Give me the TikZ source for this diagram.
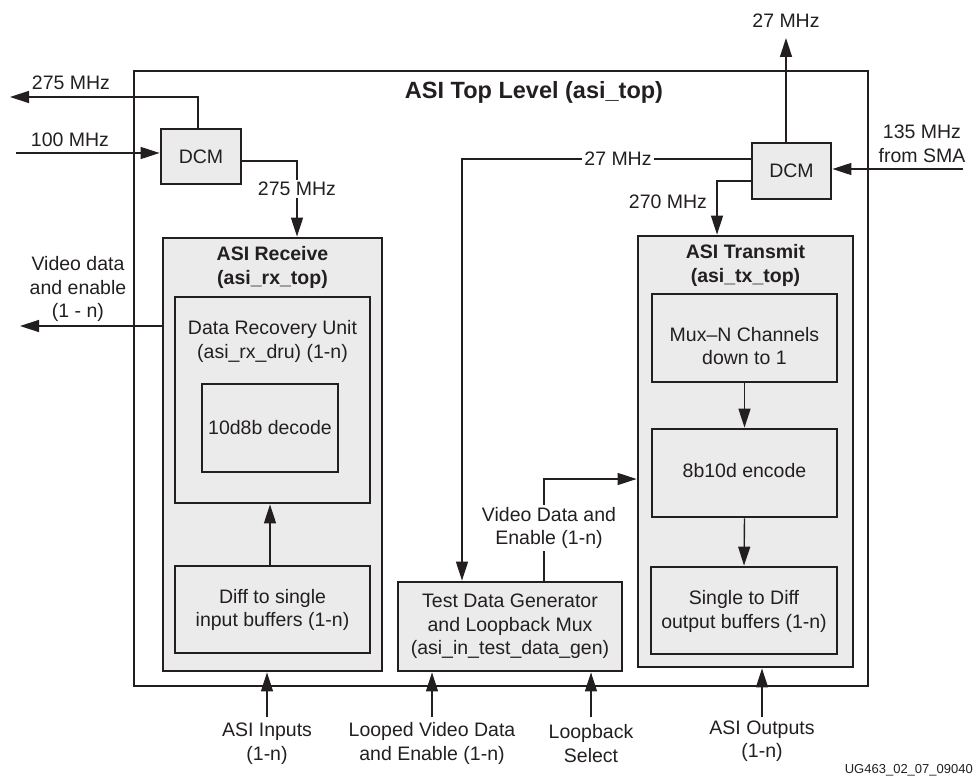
\documentclass[tikz,border=0pt]{standalone}
\usepackage{fontspec}
\setmainfont{Liberation Sans}
\usetikzlibrary{arrows.meta,calc}
\definecolor{lc}{HTML}{231F20}
\definecolor{bf}{HTML}{EBEBEB}
\begin{document}
\begin{tikzpicture}[x=1pt,y=-1pt,
  every node/.style={font=\fontsize{19.5}{23.5}\selectfont, text=lc, align=center, inner sep=0pt},
  box/.style={draw=lc, line width=2.8pt, fill=bf},
  conn/.style={draw=lc, line width=1.4pt},
  arr/.style={conn, -{Triangle[length=19pt,width=12pt]}},
  lbl/.style={fill=white, inner sep=2.5pt},
  ttl/.style={font=\bfseries\fontsize{19.5}{24}\selectfont},
]
\useasboundingbox (0,0) rectangle (974,778);

% outer box
\node[draw=lc, line width=2.8pt, minimum width=734pt, minimum height=615pt] (top) at (501,378.5) {};
\node[font=\bfseries\fontsize{23.5}{28}\selectfont] (title) at (534,92) {ASI Top Level (asi\_top)};

% DCMs
\node[box, minimum width=80pt, minimum height=55pt] (dcmL) at (201,156.5) {DCM};
\node[box, minimum width=79pt, minimum height=56pt] (dcmR) at (791.5,171) {DCM};

% receive
\node[box, minimum width=219pt, minimum height=433pt] (rx) at (272.5,454.5) {};
\node[ttl] (rxt) at (272.5,267) {ASI Receive\\(asi\_rx\_top)};
\node[box, minimum width=195pt, minimum height=206pt] (dru) at (272.5,400) {};
\node (drut) at (272.5,341.5) {Data Recovery Unit\\(asi\_rx\_dru) (1-n)};
\node[box, minimum width=136pt, minimum height=88pt] (dec) at (270,428) {10d8b decode};
\node[box, minimum width=195pt, minimum height=87pt] (diff) at (272.5,609.5) {};
\node (difft) at (272.5,610) {Diff to single\\input buffers (1-n)};

% transmit
\node[box, minimum width=215pt, minimum height=431pt] (tx) at (745.5,451.5) {};
\node[ttl] (txt) at (745.5,265) {ASI Transmit\\(asi\_tx\_top)};
\node[box, minimum width=185pt, minimum height=88pt] (mux) at (744.5,338) {};
\node (muxt) at (744.5,346) {Mux--N Channels\\down to 1};
\node[box, minimum width=185pt, minimum height=88pt] (enc) at (744.5,473) {};
\node (enct) at (744.5,471) {8b10d encode};
\node[box, minimum width=186pt, minimum height=87pt] (sgl) at (744,610.5) {};
\node (sglt) at (744,611.5) {Single to Diff\\output buffers (1-n)};

% test data generator
\node[box, minimum width=224pt, minimum height=89pt] (test) at (510,626.5) {};
\node (testt) at (510,626.5) {Test Data Generator\\and Loopback Mux\\(asi\_in\_test\_data\_gen)};

% coordinates
\coordinate (o275) at (10,97);
\coordinate (i100) at (16,153);
\coordinate (c297) at (297,161);
\coordinate (vdo) at (20,326);
\coordinate (o27) at (786,38);
\coordinate (i135) at (963,169);
\coordinate (c27) at (462,159);
\coordinate (c270) at (717,181);
\coordinate (c544) at (544,479);
\coordinate (b1) at (267,717);
\coordinate (b2) at (432,717);
\coordinate (b3) at (591,717);
\coordinate (b4) at (762,717);

% connectors
\draw[arr] (dcmL.north -| 198,0) |- (o275);
\draw[arr] (i100) -- (i100 -| dcmL.west);
\draw[arr] (dcmL.east |- c297) -- (c297) -- (c297 |- rx.north);
\draw[arr] (rx.west |- vdo) -- (vdo);
\draw[arr] (diff.north -| 270,0) -- (dru.south -| 270,0);
\draw[arr] (dcmR.north -| o27) -- (o27);
\draw[arr] (i135) -- (i135 -| dcmR.east);
\draw[arr] (dcmR.west |- c27) -- (c27) -- (c27 |- test.north);
\draw[arr] (dcmR.west |- c270) -- (c270) -- (c270 |- tx.north);
\draw[arr] (test.north -| c544) -- (c544) -- (c544 -| tx.west);
\draw[arr] (mux.south) -- (enc.north);
\draw[arr] (enc.south) -- (sgl.north);
\draw[arr] (b1) -- (b1 |- rx.south);
\draw[arr] (b2) -- (b2 |- test.south);
\draw[arr] (b3) -- (b3 |- test.south);
\draw[arr] (b4) -- (b4 |- tx.south);

% labels
\node (l275a) at (71,83) {275 MHz};
\node (l100) at (70,140) {100 MHz};
\node[lbl] (l275b) at (297,189) {275 MHz};
\node (lvdo) at (78,289) {\fontsize{19.5}{19.5}\selectfont Video data\\and enable\\(1 - n)};
\node (l27t) at (786,21) {27 MHz};
\node (l135) at (922,144) {\fontsize{19.5}{18.5}\selectfont 135 MHz\\from SMA};
\node[lbl] (l27) at (618,159) {27 MHz};
\node (l270) at (668,202) {270 MHz};
\node[lbl] (lvde) at (549,528) {\fontsize{19.5}{22}\selectfont Video Data and\\Enable (1-n)};
\node (lb1) at (267,743.5) {ASI Inputs\\(1-n)};
\node (lb2) at (432,743.5) {Looped Video Data\\and Enable (1-n)};
\node (lb3) at (591,743.5) {Loopback\\Select};
\node (lb4) at (762,741) {ASI Outputs\\(1-n)};
\node[anchor=east, font=\fontsize{13}{15}\selectfont] (fn) at (973,770) {UG463\_02\_07\_09040};
\end{tikzpicture}
\end{document}
